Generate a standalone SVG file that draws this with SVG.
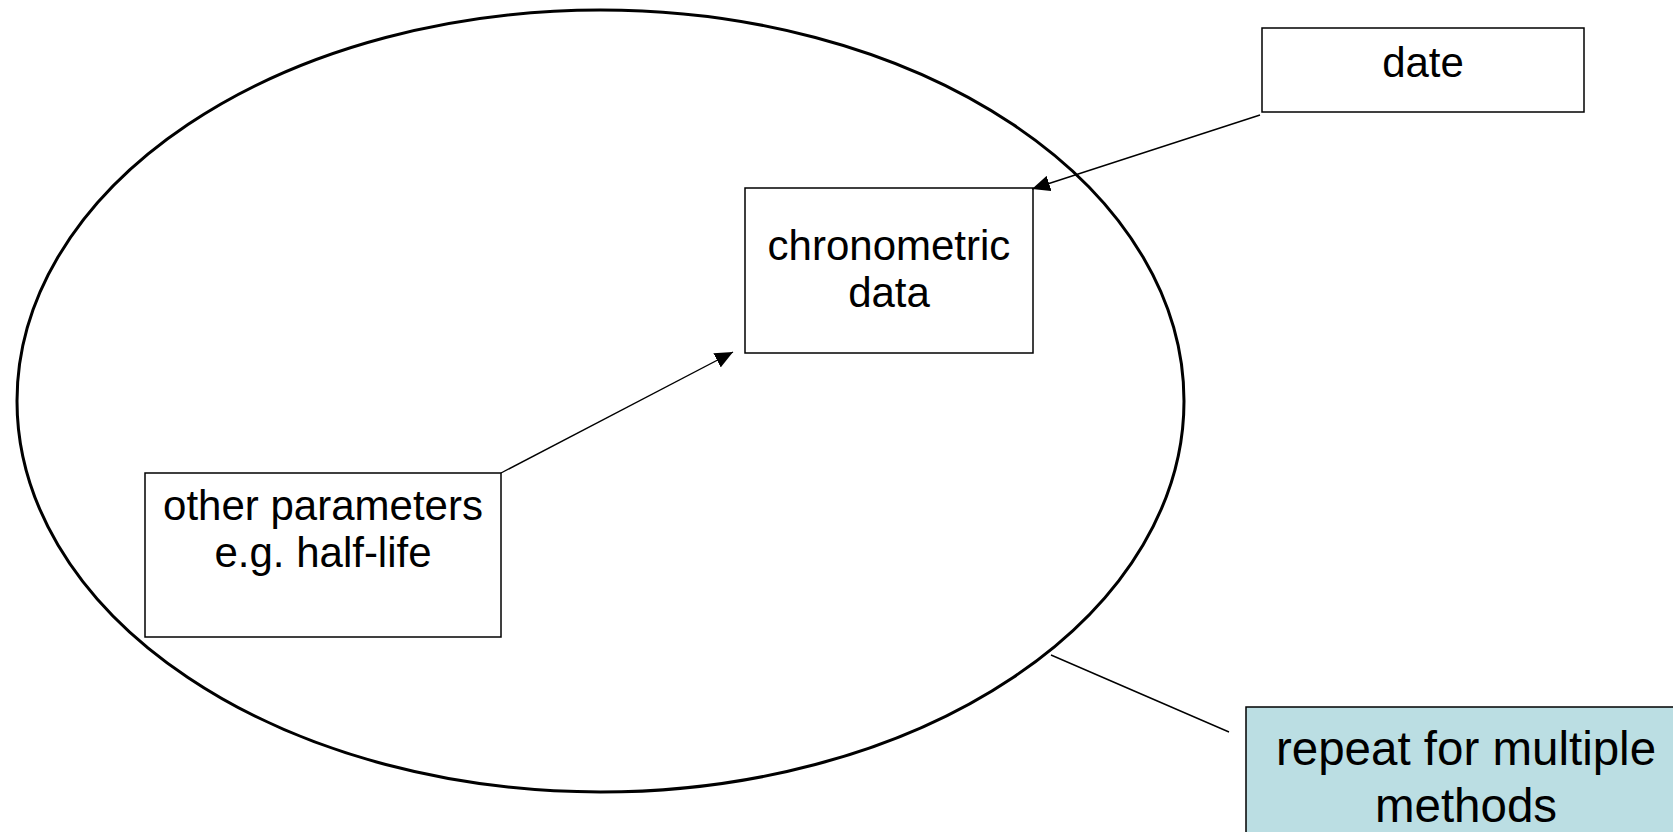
<svg xmlns="http://www.w3.org/2000/svg" width="1673" height="832" viewBox="0 0 1673 832">
<style>
.box{fill:#fff;stroke:#000;stroke-width:1.5}
.t{font-family:"Liberation Sans",Arial,sans-serif;font-size:42px;fill:#000;text-anchor:middle}
.big{font-size:47.5px}
.con{stroke:#000;stroke-width:1.4;fill:none}
</style>
<defs>
<marker id="arr" markerUnits="userSpaceOnUse" markerWidth="20" markerHeight="16" refX="18" refY="8" orient="auto">
<path d="M0,0 L18,8 L0,16 Z" fill="#000"/>
</marker>
</defs>
<rect width="1673" height="832" fill="#fff"/>
<g id="boundary">
<ellipse cx="600.5" cy="401" rx="583.5" ry="391" fill="none" stroke="#000" stroke-width="3"/>
</g>
<g id="date">
<rect class="box" x="1262" y="28" width="322" height="84"/>
<text class="t" x="1423" y="77">date</text>
</g>
<g id="chronometric">
<rect class="box" x="745" y="188" width="288" height="165"/>
<text class="t" x="889" y="260">chronometric</text>
<text class="t" x="889" y="307">data</text>
</g>
<g id="other">
<rect class="box" x="145" y="473" width="356" height="164"/>
<text class="t" x="323" y="520">other parameters</text>
<text class="t" x="323" y="567">e.g. half-life</text>
</g>
<g id="repeat">
<rect x="1246" y="707" width="440" height="140" fill="#BBDEE3" stroke="#000" stroke-width="1.5"/>
<text class="t big" x="1466" y="765">repeat for multiple</text>
<text class="t big" x="1466" y="822">methods</text>
</g>
<g id="connectors">
<line class="con" x1="1260" y1="115" x2="1032" y2="189" marker-end="url(#arr)"/>
<line class="con" x1="501" y1="473" x2="733" y2="352" marker-end="url(#arr)"/>
<line class="con" x1="1051" y1="655" x2="1229" y2="732"/>
</g>
</svg>
